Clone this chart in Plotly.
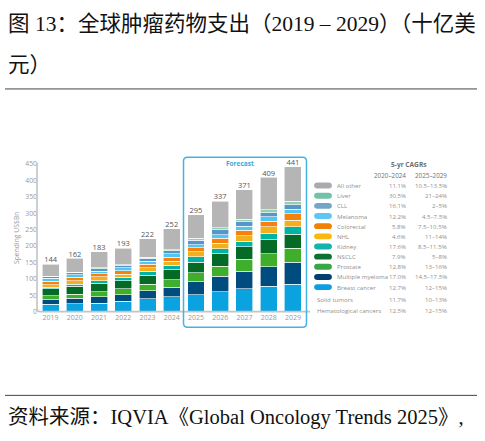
import plotly.graph_objects as go

W, H = 485, 441

years = ["2019", "2020", "2021", "2022", "2023", "2024", "2025", "2026", "2027", "2028", "2029"]
totals = [144, 162, 183, 193, 222, 252, 295, 337, 371, 409, 441]

# segment values (US$Bn), bottom to top
breast_cancer = [22, 24, 26, 31, 39, 45, 52, 61, 69, 77, 84]
multiple_myeloma = [14, 16, 20, 20, 25, 30, 39, 47, 54, 60, 67]
prostate = [12, 13, 15, 18, 19, 22, 27, 31, 36, 39, 42]
nsclc = [21, 24, 25, 25, 28, 30, 33, 37, 38, 43, 43]
kidney = [5, 7, 8, 10, 12, 14, 16, 16, 18, 20, 22]
nhl = [8, 10, 12, 10, 11, 12, 15, 17, 16, 19, 21]
colorectal = [11, 10, 10, 10, 10, 12, 12, 15, 17, 18, 20]
melanoma = [8, 8, 7, 9, 10, 11, 10, 11, 12, 13, 13]
cll = [5, 6, 8, 7, 8, 9, 13, 14, 14, 13, 14]
liver = [2, 2, 3, 3, 3, 3, 6, 7, 8, 9, 11]
all_other = [36, 42, 49, 50, 57, 64, 72, 81, 89, 98, 104]

series_names = ["Breast cancer", "Multiple myeloma", "Prostate", "NSCLC", "Kidney", "NHL",
                "Colorectal", "Melanoma", "CLL", "Liver", "All other"]
series_values = [breast_cancer, multiple_myeloma, prostate, nsclc, kidney, nhl,
                 colorectal, melanoma, cll, liver, all_other]
series_colors = ["#0aa3e0", "#004c7f", "#3fae2a", "#066a27", "#00b4a5", "#f2b01e",
                 "#f5820d", "#50c6f1", "#5597cc", "#94cfb2", "#b5b5b5"]

# legend table (top to bottom)
legend_names = ["All other", "Liver", "CLL", "Melanoma", "Colorectal", "NHL", "Kidney",
                "NSCLC", "Prostate", "Multiple myeloma", "Breast cancer"]
cagr_2020_2024 = ["11.1%", "30.5%", "16.1%", "12.2%", "5.8%", "4.6%", "17.6%",
                  "7.9%", "12.8%", "17.0%", "12.7%"]
cagr_2025_2029 = ["10.5–13.5%", "21–24%", "2–5%", "4.5–7.5%", "7.5–10.5%", "11–14%",
                  "8.5–11.5%", "5–8%", "13–16%", "14.5–17.5%", "12–15%"]
legend_swatch = ["#a9abae", "#72c2a8", "#72a6c8", "#5bc7f2", "#f08105", "#fbb80e",
                 "#11b3ac", "#0a7132", "#36a843", "#003f72", "#0b9ee0"]
group_names = ["Solid tumors", "Hematological cancers"]
group_2020_2024 = ["11.7%", "12.5%"]
group_2025_2029 = ["10–13%", "12–15%"]


def px(x):
    return x / W


def py(y):
    return 1 - y / H


GRAY = "#8f8f8f"
SMALL = "Open Sans, Noto Sans, sans-serif"
CJK = "Liberation Serif, Noto Sans CJK SC, serif"
FS = 6.1

fig = go.Figure()

for name, vals, col in zip(series_names, series_values, series_colors):
    fig.add_trace(go.Bar(
        x=years, y=vals, name=name,
        marker=dict(color=col, line=dict(color="white", width=0.6)),
        showlegend=False,
    ))

fig.add_trace(go.Scatter(
    x=years, y=totals, mode="text", text=[str(t) for t in totals],
    textposition="top center", textfont=dict(size=7.5, color="#555555", family=SMALL),
    showlegend=False, cliponaxis=False,
))

shapes = []
annotations = []

# axis line with rounded corner
shapes.append(dict(
    type="path", xref="paper", yref="paper",
    path=f"M {px(37)},{py(161)} L {px(37)},{py(310)} Q {px(37)},{py(313)} {px(40)},{py(313)} L {px(310)},{py(313)}",
    line=dict(color="#c4c4c4", width=1.6),
))

# forecast box
x0, x1, y0, y1, r = 183.5, 306.5, 155.5, 329, 4
shapes.append(dict(
    type="path", xref="paper", yref="paper",
    path=(f"M {px(x0 + r)},{py(y0)} L {px(x1 - r)},{py(y0)} Q {px(x1)},{py(y0)} {px(x1)},{py(y0 + r)} "
          f"L {px(x1)},{py(y1 - r)} Q {px(x1)},{py(y1)} {px(x1 - r)},{py(y1)} "
          f"L {px(x0 + r)},{py(y1)} Q {px(x0)},{py(y1)} {px(x0)},{py(y1 - r)} "
          f"L {px(x0)},{py(y0 + r)} Q {px(x0)},{py(y0)} {px(x0 + r)},{py(y0)} Z"),
    line=dict(color="#45b2e6", width=1.5),
))
annotations.append(dict(
    x=px(240), y=py(162), xref="paper", yref="paper", text="<b>Forecast</b>", showarrow=False,
    font=dict(size=6.5, color="#3aa7de", family=SMALL),
))

# title and source
annotations.append(dict(
    x=px(6), y=py(19), xref="paper", yref="paper", xanchor="left", yanchor="middle",
    text="图 13：全球肿瘤药物支出（2019 – 2029）（十亿美", showarrow=False,
    font=dict(size=21.5, color="#111111", family=CJK),
))
annotations.append(dict(
    x=px(6), y=py(61), xref="paper", yref="paper", xanchor="left", yanchor="middle",
    text="元）", showarrow=False, font=dict(size=21.5, color="#111111", family=CJK),
))
annotations.append(dict(
    x=px(6), y=py(421), xref="paper", yref="paper", xanchor="left", yanchor="middle",
    text="资料来源：IQVIA《Global Oncology Trends 2025》,", showarrow=False,
    font=dict(size=20.5, color="#111111", family=CJK),
))
for yy in (85.7, 398.5):
    shapes.append(dict(type="line", xref="paper", yref="paper", x0=px(5), x1=px(477),
                       y0=py(yy), y1=py(yy), line=dict(color="#444444", width=1)))

# legend table
annotations.append(dict(
    x=px(429), y=py(163), xref="paper", yref="paper", text="<b>5-yr CAGRs</b>", showarrow=False,
    font=dict(size=6.6, color="#6e6e6e", family=SMALL),
))
for label, xc in (("2020–2024", 407.5), ("2025–2029", 449)):
    annotations.append(dict(
        x=px(xc), y=py(174.3), xref="paper", yref="paper", text=label, showarrow=False,
        font=dict(size=6.3, color="#707070", family=SMALL),
    ))

row_y0, row_dy = 184.3, 10.37
for i, name in enumerate(legend_names):
    yc = row_y0 + i * row_dy
    sx0, sx1, h = 314.5, 331.5, 3
    shapes.append(dict(
        type="path", xref="paper", yref="paper",
        path=(f"M {px(sx0 + h)},{py(yc - h)} L {px(sx1 - h)},{py(yc - h)} "
              f"Q {px(sx1 + 0.4)},{py(yc - h)} {px(sx1 + 0.4)},{py(yc)} "
              f"Q {px(sx1 + 0.4)},{py(yc + h)} {px(sx1 - h)},{py(yc + h)} "
              f"L {px(sx0 + h)},{py(yc + h)} Q {px(sx0 - 0.4)},{py(yc + h)} {px(sx0 - 0.4)},{py(yc)} "
              f"Q {px(sx0 - 0.4)},{py(yc - h)} {px(sx0 + h)},{py(yc - h)} Z"),
        fillcolor=legend_swatch[i], line=dict(width=0),
    ))
    annotations.append(dict(
        x=px(335), y=py(yc), xref="paper", yref="paper", xanchor="left", text=name,
        showarrow=False, font=dict(size=FS, color=GRAY, family=SMALL),
    ))
    annotations.append(dict(
        x=px(407.5), y=py(yc), xref="paper", yref="paper", text=cagr_2020_2024[i],
        showarrow=False, font=dict(size=FS, color=GRAY, family=SMALL),
    ))
    annotations.append(dict(
        x=px(448.5), y=py(yc), xref="paper", yref="paper", text=cagr_2025_2029[i],
        showarrow=False, font=dict(size=FS, color=GRAY, family=SMALL),
    ))

for i, name in enumerate(group_names):
    yc = 307.3 + i * 10.7
    annotations.append(dict(
        x=px(314.5), y=py(yc), xref="paper", yref="paper", xanchor="left", text=name,
        showarrow=False, font=dict(size=FS, color=GRAY, family=SMALL),
    ))
    annotations.append(dict(
        x=px(407.5), y=py(yc), xref="paper", yref="paper", text=group_2020_2024[i],
        showarrow=False, font=dict(size=FS, color=GRAY, family=SMALL),
    ))
    annotations.append(dict(
        x=px(448.5), y=py(yc), xref="paper", yref="paper", text=group_2025_2029[i],
        showarrow=False, font=dict(size=FS, color=GRAY, family=SMALL),
    ))

fig.update_layout(
    width=W, height=H,
    margin=dict(l=0, r=0, t=0, b=0),
    paper_bgcolor="white", plot_bgcolor="white",
    barmode="stack", bargap=0.3,
    shapes=shapes, annotations=annotations,
    xaxis=dict(
        domain=[px(38), px(306)], range=[-0.52, 10.54], showgrid=False, showline=False,
        ticks="", tickfont=dict(size=7, color="#9a9a9a", family=SMALL), fixedrange=True,
    ),
    yaxis=dict(
        domain=[py(313), py(162.3)], range=[0, 450], dtick=50, showgrid=False, showline=False,
        zeroline=False, ticks="", tickfont=dict(size=6.8, color="#9a9a9a", family=SMALL),
        title=dict(text="Spending US$Bn", font=dict(size=6.8, color="#9a9a9a", family=SMALL), standoff=4),
        fixedrange=True,
    ),
)

# page margin off so the 485x441 figure fills the window exactly
fig.write_html("out.html", config={"displayModeBar": False},
               post_script="document.body.style.margin='0px';")
